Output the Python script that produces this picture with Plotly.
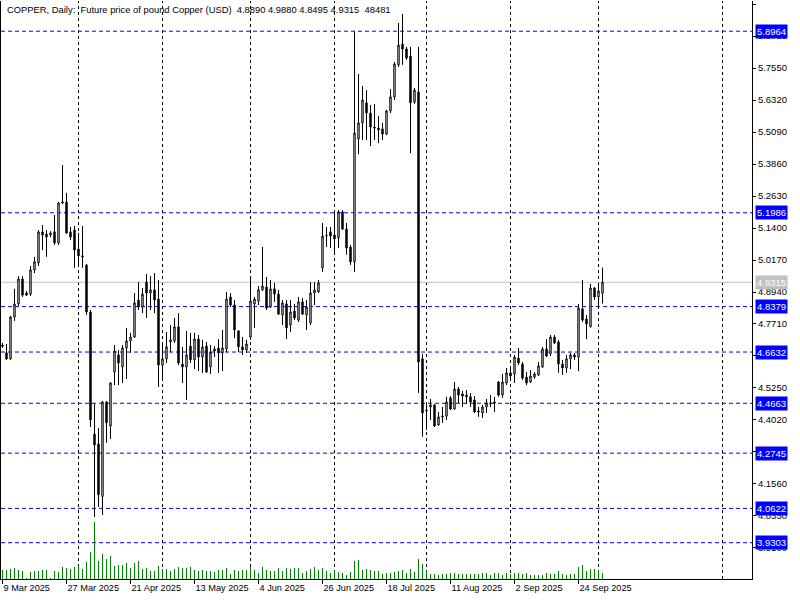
import plotly.graph_objects as go

# ---------------- data ----------------
opens = [4.690, 4.660, 4.637, 4.798, 4.848, 4.944, 4.890, 4.886, 4.979, 5.006,
         5.125, 5.117, 5.113, 5.125, 5.083, 5.236, 5.240, 5.125, 5.132, 5.059,
         5.033, 4.998, 4.817, 4.348, 4.310, 4.108, 4.471, 4.379, 4.586, 4.652,
         4.606, 4.679, 4.706, 4.721, 4.863, 4.836, 4.932, 4.890, 4.902, 4.867,
         4.613, 4.637, 4.702, 4.706, 4.760, 4.617, 4.606, 4.686, 4.633, 4.713,
         4.644, 4.686, 4.606, 4.667, 4.679, 4.660, 4.675, 4.875, 4.844, 4.744,
         4.683, 4.671, 4.721, 4.848, 4.859, 4.902, 4.913, 4.836, 4.906, 4.886,
         4.806, 4.848, 4.767, 4.821, 4.786, 4.856, 4.806, 4.775, 4.890, 4.894,
         4.987, 5.109, 5.125, 5.113, 5.102, 5.202, 5.136, 5.067, 5.010, 5.482,
         5.544, 5.621, 5.582, 5.528, 5.524, 5.521, 5.501, 5.590, 5.644, 5.767,
         5.847, 5.828, 5.801, 5.624, 5.663, 4.637, 4.440, 4.452, 4.460, 4.383,
         4.414, 4.417, 4.487, 4.444, 4.521, 4.502, 4.498, 4.491, 4.479, 4.437,
         4.429, 4.452, 4.464, 4.467, 4.548, 4.498, 4.544, 4.583, 4.579, 4.640,
         4.617, 4.567, 4.548, 4.567, 4.575, 4.606, 4.675, 4.656, 4.721, 4.702,
         4.617, 4.602, 4.637, 4.652, 4.644, 4.829, 4.790, 4.760, 4.909, 4.875,
         4.889]
highs = [4.698, 4.694, 4.802, 4.906, 4.955, 4.955, 4.898, 4.994, 5.029, 5.132,
         5.151, 5.132, 5.128, 5.190, 5.240, 5.382, 5.275, 5.144, 5.148, 5.121,
         5.148, 5.002, 4.825, 4.464, 4.371, 4.475, 4.475, 4.548, 4.690, 4.671,
         4.690, 4.756, 4.737, 4.890, 4.932, 4.909, 4.963, 4.955, 4.967, 4.940,
         4.690, 4.740, 4.767, 4.794, 4.813, 4.683, 4.744, 4.737, 4.737, 4.729,
         4.710, 4.702, 4.690, 4.686, 4.713, 4.748, 4.894, 4.890, 4.863, 4.748,
         4.721, 4.710, 4.952, 4.875, 4.917, 5.067, 4.952, 4.940, 4.929, 4.902,
         4.863, 4.863, 4.863, 4.848, 4.875, 4.871, 4.863, 4.932, 4.932, 4.940,
         5.159, 5.144, 5.144, 5.198, 5.209, 5.209, 5.159, 5.075, 5.896, 5.732,
         5.686, 5.670, 5.613, 5.617, 5.571, 5.544, 5.594, 5.674, 5.778, 5.928,
         5.963, 5.836, 5.836, 5.678, 5.836, 4.656, 4.464, 4.483, 4.464, 4.433,
         4.452, 4.491, 4.494, 4.548, 4.529, 4.514, 4.517, 4.506, 4.494, 4.452,
         4.460, 4.483, 4.498, 4.491, 4.552, 4.579, 4.602, 4.602, 4.652, 4.679,
         4.625, 4.586, 4.594, 4.586, 4.625, 4.683, 4.713, 4.729, 4.729, 4.710,
         4.633, 4.652, 4.660, 4.660, 4.848, 4.940, 4.806, 4.925, 4.913, 4.929,
         4.988]
lows = [4.679, 4.633, 4.633, 4.783, 4.840, 4.875, 4.879, 4.879, 4.967, 4.994,
        5.055, 5.029, 5.105, 5.075, 5.075, 5.232, 5.117, 5.094, 4.987, 4.990,
        4.987, 4.806, 4.375, 4.029, 4.068, 4.037, 4.314, 4.329, 4.536, 4.536,
        4.544, 4.560, 4.660, 4.717, 4.825, 4.813, 4.794, 4.825, 4.813, 4.529,
        4.556, 4.621, 4.663, 4.698, 4.613, 4.544, 4.479, 4.621, 4.598, 4.590,
        4.583, 4.583, 4.579, 4.644, 4.583, 4.590, 4.663, 4.836, 4.717, 4.663,
        4.652, 4.660, 4.710, 4.756, 4.844, 4.898, 4.825, 4.832, 4.856, 4.806,
        4.767, 4.713, 4.740, 4.786, 4.779, 4.806, 4.748, 4.767, 4.844, 4.890,
        4.971, 5.067, 5.063, 5.044, 5.063, 5.132, 5.037, 4.998, 4.971, 5.424,
        5.478, 5.478, 5.455, 5.478, 5.466, 5.478, 5.497, 5.582, 5.632, 5.759,
        5.767, 5.786, 5.428, 5.617, 4.506, 4.337, 4.364, 4.402, 4.375, 4.379,
        4.391, 4.402, 4.440, 4.442, 4.467, 4.452, 4.464, 4.452, 4.429, 4.414,
        4.410, 4.429, 4.452, 4.433, 4.491, 4.487, 4.536, 4.563, 4.544, 4.613,
        4.556, 4.536, 4.544, 4.560, 4.571, 4.602, 4.644, 4.648, 4.694, 4.583,
        4.575, 4.583, 4.598, 4.633, 4.590, 4.779, 4.713, 4.758, 4.863, 4.836,
        4.8495]
closes = [4.686, 4.637, 4.798, 4.848, 4.944, 4.882, 4.882, 4.979, 5.010, 5.125,
          5.113, 5.105, 5.121, 5.083, 5.236, 5.240, 5.121, 5.105, 5.055, 5.033,
          5.029, 4.817, 4.402, 4.306, 4.115, 4.471, 4.391, 4.544, 4.667, 4.621,
          4.679, 4.706, 4.721, 4.852, 4.836, 4.886, 4.890, 4.902, 4.863, 4.613,
          4.637, 4.683, 4.710, 4.760, 4.621, 4.606, 4.652, 4.633, 4.713, 4.644,
          4.683, 4.586, 4.663, 4.675, 4.660, 4.679, 4.867, 4.844, 4.748, 4.683,
          4.671, 4.694, 4.859, 4.867, 4.902, 4.917, 4.832, 4.906, 4.886, 4.809,
          4.852, 4.756, 4.817, 4.794, 4.856, 4.809, 4.836, 4.890, 4.902, 4.929,
          5.109, 5.111, 5.109, 5.098, 5.202, 5.136, 5.063, 5.010, 5.505, 5.544,
          5.632, 5.582, 5.528, 5.524, 5.517, 5.501, 5.590, 5.644, 5.770, 5.843,
          5.828, 5.793, 5.621, 5.670, 4.625, 4.429, 4.437, 4.460, 4.379, 4.414,
          4.417, 4.471, 4.444, 4.521, 4.498, 4.494, 4.491, 4.471, 4.433, 4.433,
          4.452, 4.467, 4.467, 4.471, 4.498, 4.548, 4.583, 4.571, 4.644, 4.621,
          4.563, 4.544, 4.571, 4.579, 4.610, 4.675, 4.648, 4.721, 4.698, 4.617,
          4.602, 4.637, 4.652, 4.644, 4.832, 4.786, 4.771, 4.909, 4.875, 4.898,
          4.9315]
volumes = [72700, 72700, 80800, 88900, 72700, 64600, 4000, 56600, 64600, 64600,
           72700, 72700, 4000, 64600, 56600, 97000, 88900, 80800, 97000, 105000,
           80800, 137400, 218200, 460600, 145400, 202000, 161600, 185800, 105000, 113100,
           113100, 129300, 88900, 129300, 145400, 80800, 88900, 64600, 64600, 105000,
           80800, 80800, 64600, 80800, 97000, 88900, 88900, 97000, 72700, 64600,
           72700, 64600, 64600, 56600, 72700, 72700, 88900, 40400, 72700, 64600,
           72700, 72700, 97000, 72700, 48500, 97000, 72700, 64600, 64600, 88900,
           64600, 88900, 80800, 88900, 88900, 48500, 64600, 80800, 97000, 72700,
           88900, 64600, 48500, 64600, 56600, 48500, 32300, 56600, 145400, 153500,
           72700, 80800, 72700, 64600, 64600, 40400, 48500, 48500, 56600, 64600,
           72700, 48500, 80800, 56600, 161600, 121200, 64600, 40400, 40400, 32300,
           40400, 40400, 48500, 48500, 40400, 40400, 40400, 40400, 40400, 40400,
           48500, 48500, 32300, 48500, 48500, 32300, 48500, 40400, 48500, 48500,
           40400, 48500, 32300, 32300, 32300, 32300, 48500, 40400, 40400, 64600,
           40400, 32300, 40400, 40400, 97000, 113100, 64600, 80800, 80800, 72700,
           48481]

date_tick_bars = [0, 16, 32, 48, 64, 80, 96, 112, 128, 144]
date_tick_labels = ["9 Mar 2025", "27 Mar 2025", "21 Apr 2025", "13 May 2025", "4 Jun 2025",
                    "26 Jun 2025", "18 Jul 2025", "11 Aug 2025", "2 Sep 2025", "24 Sep 2025"]
month_start_bars = [19, 40, 62, 83, 106, 127, 149, 180]

price_ticks = [6.0010, 5.8780, 5.7550, 5.6320, 5.5090, 5.3860, 5.2630, 5.1400, 5.0170,
               4.8940, 4.7710, 4.6480, 4.5250, 4.4020, 4.2790, 4.1560, 4.0330, 3.9100]
levels = [5.8964, 5.1986, 4.8379, 4.6632, 4.4663, 4.2745, 4.0622, 3.9303]
last_price = 4.9315

title_text = ("COPPER, Daily:\u00a0\u00a0Future price of pound Copper (USD)\u00a0\u00a0"
              "4.8890 4.9880 4.8495 4.9315\u00a0\u00a048481")

FONT = "Liberation Sans, Arial, sans-serif"
bars = list(range(len(opens)))

fig = go.Figure()

fig.add_trace(go.Bar(
    x=bars, y=volumes, yaxis="y2", width=0.25,
    marker=dict(color="#008000", line=dict(width=0)),
    hoverinfo="skip", showlegend=False,
))

fig.add_trace(go.Candlestick(
    x=bars, open=opens, high=highs, low=lows, close=closes,
    increasing=dict(line=dict(color="black", width=1), fillcolor="white"),
    decreasing=dict(line=dict(color="black", width=1), fillcolor="black"),
    whiskerwidth=0, showlegend=False, hoverinfo="skip",
))

shapes = []
for b in month_start_bars:
    shapes.append(dict(type="line", xref="x", yref="paper", x0=b, x1=b, y0=0, y1=1,
                       line=dict(color="black", width=1, dash="3px,3px"), layer="below"))
for lv in levels:
    shapes.append(dict(type="line", xref="paper", yref="y", x0=0, x1=1, y0=lv, y1=lv,
                       line=dict(color="#0000ff", width=1, dash="4px,3px"), layer="below"))
shapes.append(dict(type="line", xref="paper", yref="y", x0=0, x1=1, y0=last_price, y1=last_price,
                   line=dict(color="#c0c0c0", width=1), layer="below"))

annotations = []
for lv in levels:
    annotations.append(dict(xref="paper", yref="y", x=1, y=lv, xanchor="left", yanchor="middle",
                            xshift=3, text=f"{lv:.4f}", showarrow=False, bgcolor="#0000ff",
                            borderpad=1, font=dict(family=FONT, size=9.5, color="white")))
annotations.append(dict(xref="paper", yref="y", x=1, y=last_price, xanchor="left", yanchor="middle",
                        xshift=3, text=f"{last_price:.4f}", showarrow=False, bgcolor="#c0c0c0",
                        borderpad=1, font=dict(family=FONT, size=9.5, color="white")))
annotations.append(dict(xref="paper", yref="paper", x=0, y=1, xanchor="left", yanchor="top",
                        xshift=4, yshift=-1, text=title_text, showarrow=False,
                        font=dict(family=FONT, size=9.4, color="black")))

fig.update_layout(
    width=800, height=600,
    margin=dict(l=1, r=48, t=1, b=21, autoexpand=False),
    paper_bgcolor="white", plot_bgcolor="white",
    boxgap=0.5,
    bargap=0,
    showlegend=False,
    hovermode=False,
    shapes=shapes,
    annotations=annotations,
    font=dict(family=FONT, size=9.5, color="black"),
    xaxis=dict(
        range=[-0.375, 187.375], rangeslider=dict(visible=False), automargin=False,
        tickmode="array", tickvals=date_tick_bars, ticktext=date_tick_labels,
        ticks="outside", ticklen=4, tickcolor="black", tickangle=0,
        ticklabelposition="outside right",
        showgrid=False, zeroline=False,
        showline=True, linecolor="black", linewidth=1,
        tickfont=dict(family=FONT, size=9.2, color="black"),
    ),
    yaxis=dict(
        side="right", range=[3.79081, 6.01253], automargin=False,
        tickmode="array", tickvals=price_ticks, ticktext=[f"{t:.4f}" for t in price_ticks],
        ticks="outside", ticklen=3, tickcolor="black",
        showgrid=False, zeroline=False,
        showline=True, mirror=True, linecolor="black", linewidth=1,
        tickfont=dict(family=FONT, size=9.5, color="black"),
    ),
    yaxis2=dict(
        overlaying="y", range=[0, 4662000], visible=False, showgrid=False, automargin=False,
    ),
)

fig.write_html("out.html", config={"displayModeBar": False},
               post_script="document.body.style.margin='0';")
